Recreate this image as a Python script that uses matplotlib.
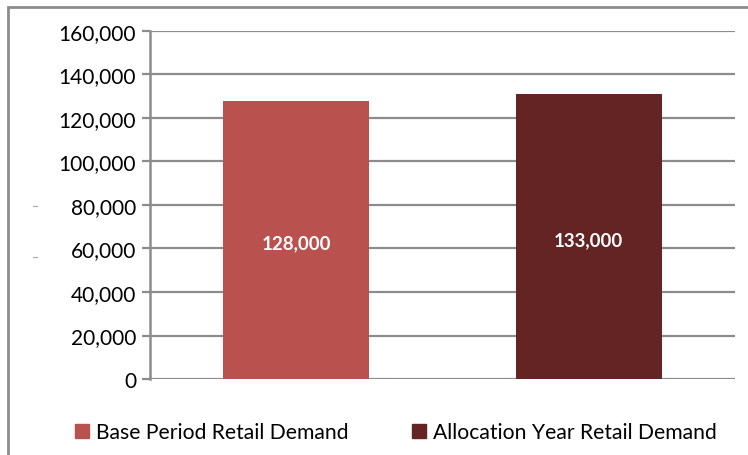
import matplotlib
matplotlib.use("Agg")
import matplotlib.pyplot as plt
from matplotlib.patches import Rectangle
from matplotlib.lines import Line2D
from matplotlib.ticker import FuncFormatter

# data
categories = ["Base Period Retail Demand", "Allocation Year Retail Demand"]
bar_heights = [128000, 131000]
bar_labels = ["128,000", "133,000"]
colors = ["#B9514E", "#632423"]
y_ticks = [0, 20000, 40000, 60000, 80000, 100000, 120000, 140000, 160000]

plt.rcParams["font.family"] = ["Lato", "DejaVu Sans"]

W, H = 748, 456
fig = plt.figure(figsize=(W / 100, H / 100), dpi=100)
ax = fig.add_axes([150 / W, 1 - 380 / H, (735 - 150) / W, (380 - 32) / H])

grid_c = "#8C8C8C"
x = list(range(len(categories)))
bars = ax.bar(x, bar_heights, width=0.5, color=colors, zorder=3)

for b, lab in zip(bars, bar_labels):
    ax.text(b.get_x() + b.get_width() / 2, b.get_height() * 0.49, lab,
            ha="center", va="center", color="white", fontsize=13.5,
            fontweight="bold", zorder=4)

ax.set_xlim(-0.5, 1.5)
ax.set_ylim(0, 160000)
ax.set_yticks(y_ticks)
ax.yaxis.set_major_formatter(FuncFormatter(lambda v, p: f"{int(v):,}"))
ax.set_xticks([])
ax.grid(axis="y", color=grid_c, linewidth=1.6, zorder=1)
for s in ["top", "right", "bottom"]:
    ax.spines[s].set_visible(False)
ax.spines["left"].set_color(grid_c)
ax.spines["left"].set_linewidth(1.8)
ax.tick_params(axis="y", length=6, width=1.6, color=grid_c, labelsize=15,
               pad=4, labelcolor="black")

# legend below plot
handles = [Rectangle((0, 0), 1, 1, color=c) for c in colors]
fig.legend(handles, categories, loc="center", bbox_to_anchor=(396 / W, 1 - 433 / H),
           ncol=2, frameon=False, fontsize=15.2, handlelength=0.65, handleheight=0.65,
           handletextpad=0.35, columnspacing=3.0)

# outer chart border (cut off at right and bottom)
fig.add_artist(Rectangle((8 / W, -0.1), 1.2, 1 - 8 / H + 0.1, transform=fig.transFigure,
                         fill=False, edgecolor=grid_c, linewidth=2))

# small stray dashes at the left
for yy in [207, 258]:
    fig.add_artist(Line2D([33 / W, 37 / W], [1 - yy / H, 1 - yy / H],
                          transform=fig.transFigure, color="#AAAAAA", linewidth=0.8))

fig.savefig("out.png", dpi=100)
